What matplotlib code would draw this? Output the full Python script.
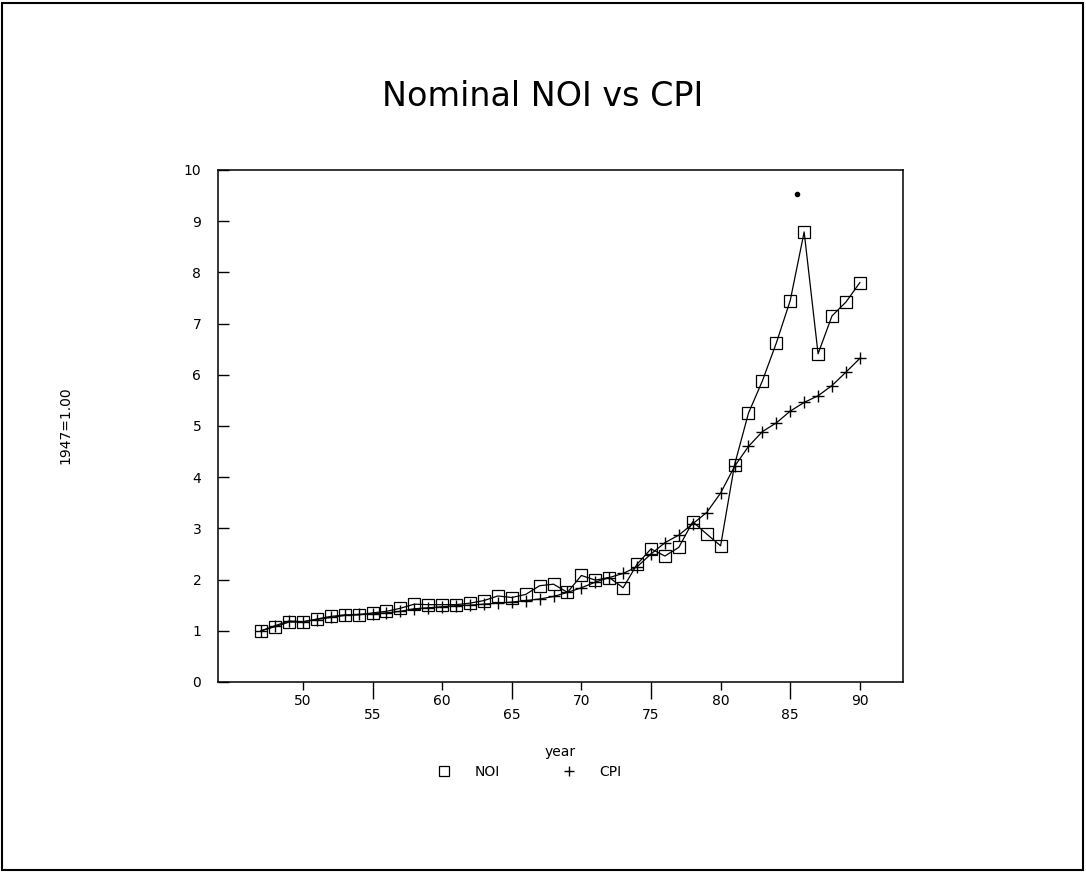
import matplotlib
matplotlib.use('Agg')
import matplotlib.pyplot as plt
from matplotlib.lines import Line2D
from matplotlib.patches import Rectangle

years = list(range(47, 91))

noi = [1.00, 1.08, 1.17, 1.17, 1.23, 1.28, 1.31, 1.31, 1.35, 1.38,
       1.44, 1.52, 1.51, 1.51, 1.51, 1.54, 1.59, 1.68, 1.65, 1.71,
       1.88, 1.91, 1.75, 2.08, 1.99, 2.04, 1.84, 2.30, 2.60, 2.46,
       2.63, 3.13, 2.89, 2.66, 4.24, 5.25, 5.88, 6.62, 7.45, 8.79,
       6.41, 7.15, 7.42, 7.80]

cpi = [1.00, 1.10, 1.19, 1.18, 1.22, 1.26, 1.30, 1.32, 1.33, 1.35,
       1.38, 1.43, 1.45, 1.47, 1.49, 1.50, 1.52, 1.54, 1.56, 1.59,
       1.62, 1.67, 1.75, 1.84, 1.95, 2.04, 2.12, 2.25, 2.50, 2.72,
       2.87, 3.09, 3.31, 3.69, 4.21, 4.60, 4.89, 5.06, 5.29, 5.46,
       5.59, 5.79, 6.05, 6.32]

# small ink blot in the scanned original
blot_x = [85.5]
blot_y = [9.53]

x_long = [50, 60, 70, 80, 90]
x_short = [55, 65, 75, 85]
y_ticks = list(range(0, 11))

fig = plt.figure(figsize=(10.86, 8.73), dpi=100)
ax = fig.add_axes([0.2007, 0.2188, 0.6308, 0.5865])

ax.plot(years, noi, color='black', linewidth=0.9, marker='s', markersize=8.5,
        markerfacecolor='none', markeredgecolor='black', markeredgewidth=0.9)
ax.plot(years, cpi, color='black', linewidth=0.9, marker='+', markersize=9,
        markeredgewidth=1.0)
ax.plot(blot_x, blot_y, 'o', color='black', markersize=3)

ax.set_xlim(43.9, 93.1)
ax.set_ylim(0, 10)

ax.set_yticks(y_ticks)
ax.set_yticklabels([str(v) for v in y_ticks])
ax.tick_params(axis='y', direction='in', length=8, width=1, pad=12, labelsize=10)

# labels alternate between two rows under the axis
ax.set_xticks(x_long)
ax.set_xticklabels([str(v) for v in x_long])
ax.set_xticks(x_short, minor=True)
ax.set_xticklabels([str(v) for v in x_short], minor=True)
ax.tick_params(axis='x', which='major', direction='out', length=6, width=1, pad=3, labelsize=10)
ax.tick_params(axis='x', which='minor', direction='out', length=12, width=1, pad=7, labelsize=10)

for s in ax.spines.values():
    s.set_linewidth(1.1)

fig.text(560 / 1086, 1 - 752 / 873, 'year', ha='center', va='center', fontsize=10)

handles = [Line2D([], [], linestyle='none', marker='s', markersize=7, markerfacecolor='none',
                  markeredgecolor='black', markeredgewidth=0.9),
           Line2D([], [], linestyle='none', marker='+', markersize=7, color='black')]
fig.legend(handles, ['NOI', 'CPI'], loc='center', bbox_to_anchor=(0.484, 1 - 772 / 873),
           ncol=2, frameon=False, fontsize=10, columnspacing=4.0, handletextpad=1.2)

fig.text(0.5, 1 - 96 / 873, 'Nominal NOI vs CPI', ha='center', va='center', fontsize=24)
fig.text(65 / 1086, 1 - 425 / 873, '1947=1.00', rotation=90, ha='center', va='center', fontsize=10)

# page frame around the whole picture
fig.patches.append(Rectangle((0.002, 0.003), 0.995, 0.993, transform=fig.transFigure,
                             fill=False, edgecolor='black', linewidth=1.5))

fig.savefig('out.png', dpi=100)
